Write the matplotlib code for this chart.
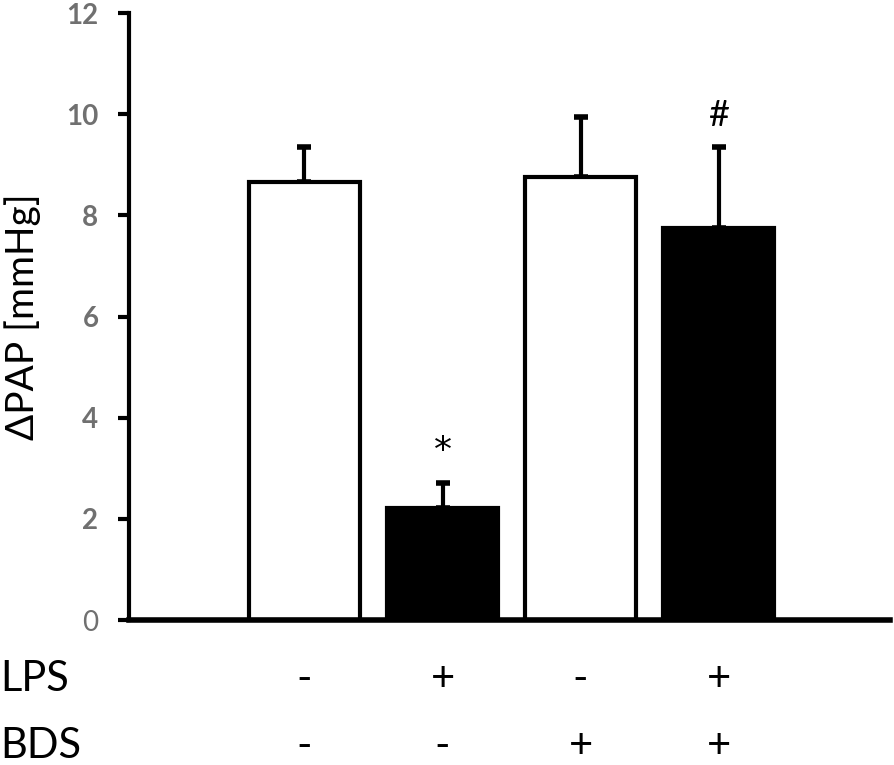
import numpy as np
import matplotlib as mpl
import matplotlib.pyplot as plt

mpl.rcParams['font.family'] = ['Lato', 'DejaVu Sans']

groups = ["ctrl", "LPS", "BDS", "LPS+BDS"]
means = [8.65, 2.22, 8.75, 7.75]
sem = [0.70, 0.48, 1.20, 1.60]
colors = ["white", "black", "white", "black"]
lps = ["-", "+", "-", "+"]
bds = ["-", "-", "+", "+"]
marks = {1: "*", 3: "#"}

fig = plt.figure(figsize=(8.94, 7.65), dpi=100)
ax = fig.add_axes([0.1443, 0.1895, 0.8512, 0.7935])

x = np.arange(len(groups))
ax.bar(x, means, width=0.8, color=colors, edgecolor="black", linewidth=3, zorder=2)
ax.errorbar(x, means, yerr=[np.zeros(len(sem)), sem], fmt="none",
            ecolor="black", elinewidth=3, capsize=5, capthick=4, zorder=1)

for i, m in marks.items():
    fam = ['DejaVu Sans'] if m == "*" else ['Lato', 'DejaVu Sans']
    ax.text(x[i], means[i] + sem[i] + 0.3, m, ha="center", va="bottom",
            fontsize=26, family=fam)

ax.set_xlim(-1.27, 4.24)
ax.set_ylim(0, 12)
ax.set_yticks(np.arange(0, 13, 2))
labels = ax.set_yticklabels([str(v) for v in range(0, 13, 2)], fontsize=20,
                            fontweight="bold", color="#707070")
labels[0].set_fontweight("normal")
ax.set_xticks([])
ax.tick_params(axis="y", direction="out", length=8, width=3, pad=14)
for s in ["top", "right"]:
    ax.spines[s].set_visible(False)
ax.spines["left"].set_linewidth(3)
ax.spines["bottom"].set_linewidth(4)
ax.set_ylabel("ΔPAP [mmHg]", fontsize=28)
ax.yaxis.set_label_coords(-0.116, 0.50)

tr = ax.get_xaxis_transform()
ax.text(-0.1443 / 0.8512, -0.097, "LPS", transform=ax.transAxes, fontsize=30,
        ha="left", va="center")
ax.text(-0.1443 / 0.8512, -0.207, "BDS", transform=ax.transAxes, fontsize=30,
        ha="left", va="center")
for i in range(len(groups)):
    ax.text(x[i], -0.097, lps[i], transform=tr, fontsize=30, ha="center", va="center", clip_on=False)
    ax.text(x[i], -0.207, bds[i], transform=tr, fontsize=30, ha="center", va="center", clip_on=False)

fig.savefig("out.png", dpi=100)
